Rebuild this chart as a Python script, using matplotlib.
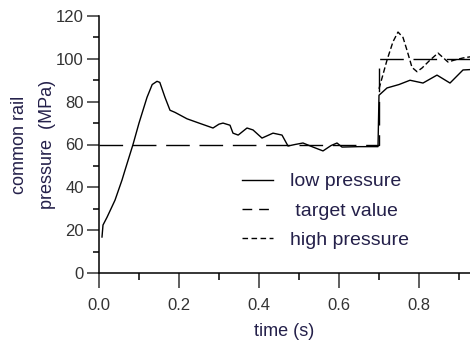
import matplotlib
matplotlib.use("Agg")
import matplotlib.pyplot as plt
from matplotlib.lines import Line2D

# low pressure (solid)
low_t = [0.0075, 0.01, 0.02, 0.04, 0.0575, 0.065, 0.085, 0.10, 0.12, 0.133, 0.145, 0.152,
         0.165, 0.1775, 0.19, 0.22, 0.25, 0.285, 0.30, 0.31, 0.3275, 0.335, 0.348, 0.37,
         0.385, 0.4075, 0.435, 0.4575, 0.4725, 0.49, 0.51, 0.535, 0.56, 0.58, 0.595,
         0.6075, 0.65, 0.6975, 0.70, 0.72, 0.75, 0.7775, 0.81, 0.845, 0.8775, 0.91, 0.93]
low_p = [16.8, 22.4, 26, 34, 43.4, 48, 60, 70, 82, 88, 89.5, 89,
         82, 76, 75, 72, 70, 67.7, 69.5, 70, 69, 65.3, 64.4, 67.7,
         66.8, 63, 65.3, 64.4, 59.3, 60, 60.7, 58.8, 57, 59.5, 60.7,
         58.8, 59, 59, 83, 86.4, 88, 90, 88.7, 92.4, 88.7, 94.8, 95]

# high pressure (short dashes)
high_t = [0.70, 0.72, 0.735, 0.7475, 0.76, 0.77, 0.7825, 0.795, 0.8075, 0.8275, 0.8475,
          0.8725, 0.89, 0.91, 0.93]
high_p = [86, 99.4, 108, 112.5, 110, 104, 96, 94, 95.7, 99.4, 102.7,
          98.5, 99.5, 100.4, 101]

# target value (long dashes)
target_t = [0.0, 0.70, 0.70, 0.93]
target_p = [60, 60, 100, 100]

x_ticks = [0.0, 0.2, 0.4, 0.6, 0.8]
y_ticks = [0, 20, 40, 60, 80, 100, 120]
legend_labels = ["low pressure", " target value", "high pressure"]

plt.rcParams['font.family'] = ['Liberation Sans', 'DejaVu Sans']
txt_color = "#24204a"

fig = plt.figure(figsize=(4.7, 3.4), dpi=100)
ax = fig.add_axes([99/470, 67/340, 1 - 99/470, 257/340])

ax.plot(low_t, low_p, color="black", lw=1.0)
ax.plot(target_t, target_p, color="black", lw=1.0, dashes=(17, 7))
ax.plot(high_t, high_p, color="black", lw=1.0, dashes=(4, 2))

ax.set_xlim(0, 0.9275)
ax.set_ylim(0, 120)
ax.set_xticks(x_ticks)
ax.set_xticklabels([f"{v:.1f}" for v in x_ticks])
ax.set_xticks([0.1, 0.3, 0.5, 0.7, 0.9], minor=True)
ax.set_yticks(y_ticks)
ax.set_yticks([10, 30, 50, 70, 90, 110], minor=True)

for s in ["top", "right"]:
    ax.spines[s].set_visible(False)
for s in ["left", "bottom"]:
    ax.spines[s].set_linewidth(1.1)

ax.tick_params(axis="x", which="major", length=11, width=1.1, labelsize=12,
               colors="#333333", pad=7)
ax.tick_params(axis="x", which="minor", length=5, width=1.1)
ax.tick_params(axis="y", which="major", length=9, width=1.1, labelsize=12,
               colors="#333333", pad=2)
ax.tick_params(axis="y", which="minor", length=4, width=1.1)

ax.set_xlabel("time (s)", fontsize=13, color=txt_color, labelpad=7)
ax.set_ylabel("common rail\npressure  (MPa)", fontsize=13, color=txt_color,
              linespacing=1.8, labelpad=0)

handles = [Line2D([], [], color="black", lw=1.0),
           Line2D([], [], color="black", lw=1.0, dashes=(7, 5)),
           Line2D([], [], color="black", lw=1.0, dashes=(4, 2.5))]
leg = ax.legend(handles, legend_labels, loc="upper left", bbox_to_anchor=(0.385, 0.39),
                frameon=False, fontsize=14, handlelength=1.6, handletextpad=0.9,
                labelspacing=0.6, borderaxespad=0, borderpad=0)
for t in leg.get_texts():
    t.set_color(txt_color)

fig.savefig("out.png", dpi=100)
